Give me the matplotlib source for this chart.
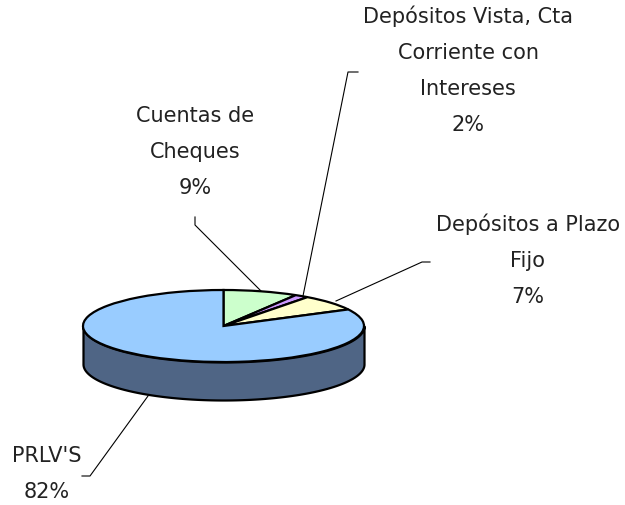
import matplotlib
matplotlib.use('Agg')
from matplotlib import pyplot as plt
import numpy as np

# pie data, labels in the picture are the rounded shares
labels = ['Cuentas de\nCheques\n9%', 'Depósitos Vista, Cta\nCorriente con\nIntereses\n2%',
          'Depósitos a Plazo\nFijo\n7%', "PRLV'S\n82%"]
values = [8.6, 1.6, 7.2, 82.6]
colors = ['#CCFFCC', '#CC99FF', '#FFFFCC', '#99CCFF']

W, H = 625, 505
fig = plt.figure(figsize=(W / 100, H / 100), dpi=100)

# pie squashed into an ellipse by the axes shape
ax = fig.add_axes([83 / W, (H - 362) / H, 281 / W, 72 / H])
ax.pie(values, colors=colors, startangle=90, counterclock=False, radius=1,
       wedgeprops=dict(edgecolor='black', linewidth=1.6))
ax.set_aspect('auto')
ax.set_xlim(-1, 1)
ax.set_ylim(-1, 1)

# side of the disc
depth = 38 / 36
t = np.linspace(np.pi, 2 * np.pi, 200)
ax.fill_between(np.cos(t), np.sin(t), np.sin(t) - depth, facecolor='#4F6585',
                edgecolor='black', linewidth=1.6, clip_on=False, zorder=0)
for p in ax.patches:
    p.set_clip_on(False)

# overlay in pixel coordinates for labels and leader lines
ov = fig.add_axes([0, 0, 1, 1], facecolor='none')
ov.set_xlim(0, W)
ov.set_ylim(H, 0)
ov.axis('off')

leaders = [([195, 195, 261], [217, 225, 291]),
           ([358, 348, 303], [72, 72, 296]),
           ([430, 422, 336], [262, 262, 301]),
           ([82, 90, 148], [476, 476, 396])]
for xs, ys in leaders:
    ov.plot(xs, ys, color='black', lw=0.8)

positions = [(195, 152), (468, 70), (528, 260), (47, 474)]
for (x, y), s in zip(positions, labels):
    ov.text(x, y, s, ha='center', va='center', fontsize=15, family='DejaVu Sans',
            linespacing=2.0, color='#222222')

fig.savefig('out.png', dpi=100)
